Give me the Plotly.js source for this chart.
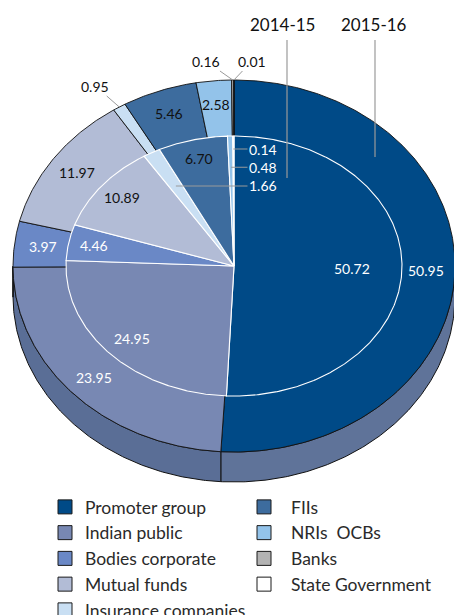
<!DOCTYPE html>
<html><head><meta charset="utf-8">
<script src="https://cdn.plot.ly/plotly-3.0.1.min.js"></script>
<style>html,body{margin:0;padding:0;background:#fff}</style>
</head><body><div id="chart" style="width:454px;height:615px"></div>
<script>
// ---- data ----
const categories = ['Promoter group','Indian public','Bodies corporate','Mutual funds','Insurance companies','FIIs','NRIs  OCBs','Banks','State Government'];
const values2015_16 = [50.95, 23.95, 3.97, 11.97, 0.95, 5.46, 2.58, 0.16, 0.01];
const values2014_15 = [50.72, 24.95, 4.46, 10.89, 1.66, 6.70, 0.48, 0.14, 0];
const seriesNames = ['2014-15', '2015-16'];

// ---- styles ----
const colors = ['#004a87','#7888b3','#6a88c6','#b2bcd6','#c9dff3','#3d6c9e','#93c3ea','#b3b3b3','#ffffff'];
const sideColors = ['#5f7399','#5a6e96','#5a6e96','#8a93a8','#9aa8b8','#3a5878','#7090b0','#8a8a8a','#cccccc'];
const labelColorsOuter = ['#fff','#fff','#fff','#111','#111','#111','#111','#111','#111'];
const labelColorsInner = ['#fff','#fff','#fff','#111','#111','#111','#111','#111','#111'];
const FONT = 'Lato, "Open Sans", sans-serif';

// geometry (pixel layout)
const CX = 234, CY = 266;
const ORX = 221, ORY = 186;   // outer ring (2015-16)
const IRX = 168, IRY = 130;   // inner ring (2014-15)
const DEPTH = 30;
const outerLabelR = 0.87;
const innerLabelR = [0.70, 0.82, 0.85, 0.85, 0.85, 0.85, 0.85, 0.85, 0.85];
const outerCallout = {4: {f: 1.0, ax: -24, ay: -21}, 7: {f: 1.0, ax: -27, ay: -19}, 8: {f: 1.0, ax: 18, ay: -19}};
const innerCallout = {4: {f: 0.706}, 6: {f: 0.76}, 7: {f: 0.9}};
const innerCalloutTextX = 263;

function pt(rx, ry, deg, f, dy) {
  const a = deg * Math.PI / 180;
  return [CX + f * rx * Math.sin(a), CY - f * ry * Math.cos(a) + (dy || 0)];
}
function arc(rx, ry, a0, a1, dy) {
  const n = Math.max(2, Math.ceil(Math.abs(a1 - a0) / 0.5));
  const xs = [], ys = [];
  for (let k = 0; k <= n; k++) {
    const p = pt(rx, ry, a0 + (a1 - a0) * k / n, 1, dy);
    xs.push(p[0]); ys.push(p[1]);
  }
  return [xs, ys];
}
function angles(vals) {
  const tot = vals.reduce((s, v) => s + v, 0);
  let c = 0;
  return vals.map(v => { const a0 = c / tot * 360; c += v; return [a0, c / tot * 360]; });
}

const outerAng = angles(values2015_16);
const innerAng = angles(values2014_15);
const traces = [];

// side (depth) of the tilted pie
outerAng.forEach(([a0, a1], i) => {
  const s = Math.max(a0, 90), e = Math.min(a1, 270);
  if (e <= s) return;
  const top = arc(ORX, ORY, s, e, 0);
  const bot = arc(ORX, ORY, e, s, DEPTH);
  traces.push({type: 'scatter', mode: 'lines', x: top[0].concat(bot[0], [top[0][0]]), y: top[1].concat(bot[1], [top[1][0]]),
    fill: 'toself', fillcolor: sideColors[i], line: {color: '#111', width: 1}, showlegend: false, hoverinfo: 'skip'});
});

// outer ring (2015-16)
outerAng.forEach(([a0, a1], i) => {
  if (values2015_16[i] <= 0) return;
  const a = arc(ORX, ORY, a0, a1, 0);
  traces.push({type: 'scatter', mode: 'lines', name: categories[i],
    x: [CX].concat(a[0], [CX]), y: [CY].concat(a[1], [CY]),
    fill: 'toself', fillcolor: colors[i], line: {color: '#111', width: 0.9}, showlegend: false, hoverinfo: 'skip'});
});

// inner pie (2014-15)
innerAng.forEach(([a0, a1], i) => {
  if (values2014_15[i] <= 0) return;
  const a = arc(IRX, IRY, a0, a1, 0);
  traces.push({type: 'scatter', mode: 'lines', name: categories[i],
    x: [CX].concat(a[0], [CX]), y: [CY].concat(a[1], [CY]),
    fill: 'toself', fillcolor: colors[i], line: {color: '#ffffff', width: 1.1}, showlegend: false, hoverinfo: 'skip'});
});

// legend entries
categories.forEach((c, i) => {
  traces.push({type: 'scatter', mode: 'markers', name: c, x: [null], y: [null],
    marker: {symbol: 'square', size: 14, color: colors[i], line: {color: '#1a1a1a', width: 1}},
    legend: i < 5 ? 'legend' : 'legend2', hoverinfo: 'skip'});
});

// labels
const annotations = [];
outerAng.forEach(([a0, a1], i) => {
  const v = values2015_16[i];
  const mid = (a0 + a1) / 2;
  if (outerCallout[i]) {
    const c = outerCallout[i];
    const p = pt(ORX, ORY, mid, c.f);
    annotations.push({x: p[0], y: p[1], xref: 'x', yref: 'y', text: v.toFixed(2), showarrow: true, arrowhead: 0,
      arrowwidth: 1, arrowcolor: '#9a9a9a', ax: c.ax, ay: c.ay, standoff: 0, font: {family: FONT, size: 14, color: '#111'}});
  } else {
    const p = pt(ORX, ORY, mid, outerLabelR);
    annotations.push({x: p[0], y: p[1], xref: 'x', yref: 'y', text: v.toFixed(2), showarrow: false,
      font: {family: FONT, size: 14, color: labelColorsOuter[i]}});
  }
});
innerAng.forEach(([a0, a1], i) => {
  const v = values2014_15[i];
  if (v <= 0) return;
  const mid = (a0 + a1) / 2;
  if (innerCallout[i]) {
    const p = pt(IRX, IRY, mid, innerCallout[i].f);
    annotations.push({x: p[0], y: p[1], xref: 'x', yref: 'y', text: v.toFixed(2), showarrow: true, arrowhead: 0,
      arrowwidth: 1.2, arrowcolor: '#9a9a9a', ax: innerCalloutTextX - p[0], ay: 0, standoff: 0,
      font: {family: FONT, size: 14, color: '#ffffff'}});
  } else {
    const p = pt(IRX, IRY, mid, innerLabelR[i]);
    annotations.push({x: p[0], y: p[1], xref: 'x', yref: 'y', text: v.toFixed(2), showarrow: false,
      font: {family: FONT, size: 14, color: labelColorsInner[i]}});
  }
});
// series titles
annotations.push({x: 282, y: 24, xref: 'x', yref: 'y', text: seriesNames[0], showarrow: false, font: {family: FONT, size: 17, color: '#111'}});
annotations.push({x: 374, y: 24, xref: 'x', yref: 'y', text: seriesNames[1], showarrow: false, font: {family: FONT, size: 17, color: '#111'}});
const shapes = [
  {type: 'line', xref: 'x', yref: 'y', x0: 287, x1: 287, y0: 40, y1: 178, line: {color: '#9a9a9a', width: 1.2}},
  {type: 'line', xref: 'x', yref: 'y', x0: 375, x1: 375, y0: 40, y1: 157, line: {color: '#9a9a9a', width: 1.2}}
];

const legendBase = {yanchor: 'top', xanchor: 'left', bgcolor: 'rgba(0,0,0,0)', borderwidth: 0,
  font: {family: FONT, size: 17.5, color: '#2a2a2a'}, tracegroupgap: 0, itemwidth: 30};
const layout = {
  width: 454, height: 615, margin: {l: 0, r: 0, t: 0, b: 0, autoexpand: false},
  paper_bgcolor: '#fff', plot_bgcolor: '#fff',
  xaxis: {range: [0, 454], visible: false, fixedrange: true},
  yaxis: {range: [615, 0], visible: false, fixedrange: true},
  showlegend: true,
  legend: Object.assign({}, legendBase, {x: 45 / 454, y: 1 - 489 / 615}),
  legend2: Object.assign({}, legendBase, {x: 237 / 454, y: 1 - 489 / 615, itemwidth: 44}),
  annotations: annotations, shapes: shapes, hovermode: false
};
Plotly.newPlot('chart', traces, layout, {displayModeBar: false, staticPlot: true});
</script></body></html>
